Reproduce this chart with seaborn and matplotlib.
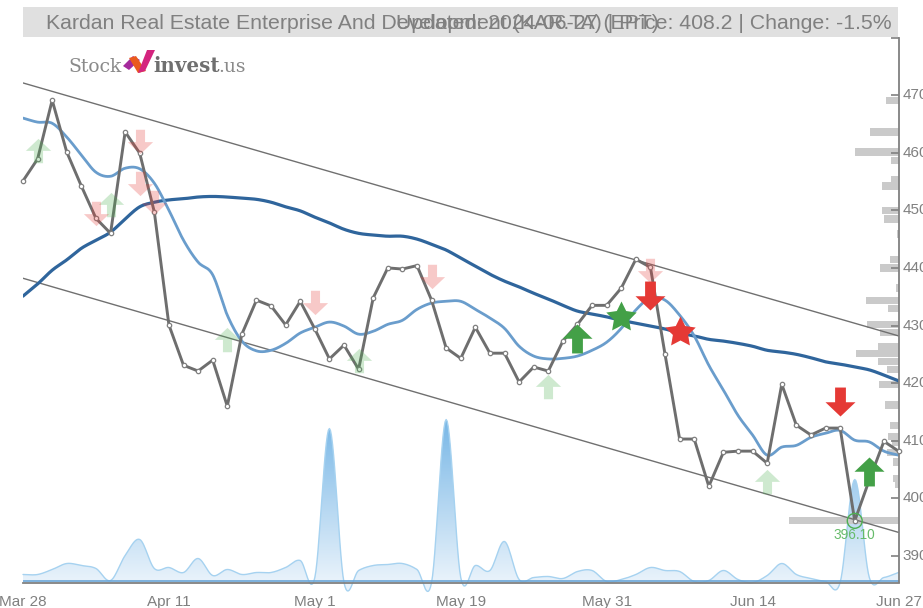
import numpy as np
import pandas as pd
import matplotlib
matplotlib.use("Agg")
import matplotlib.pyplot as plt
from matplotlib.patches import Polygon, Rectangle, PathPatch
from matplotlib.path import Path
import seaborn as sns

# -----------------------------
# DATA
# -----------------------------
PRICE = [455.1, 458.9, 469.1, 460.1, 454.2, 448.6, 446.0, 463.6, 459.9, 449.7,
         430.1, 423.1, 422.1, 424.0, 416.0, 428.5, 434.4, 433.4, 430.1, 434.2,
         429.4, 424.2, 426.6, 422.4, 434.8, 440.0, 439.8, 440.4, 434.4, 426.1,
         424.3, 429.7, 425.2, 425.2, 420.2, 422.8, 422.1, 427.3, 430.2, 433.5,
         433.5, 436.5, 441.5, 440.1, 425.0, 410.3, 410.3, 402.1, 408.0, 408.2,
         408.2, 406.1, 419.8, 412.7, 411.0, 412.2, 412.2, 396.1, 403.2, 409.9,
         408.2]
MA_SHORT = [466.0, 465.3, 465.1, 462.7, 459.6, 456.6, 455.9, 457.3, 457.2, 454.7,
            450.0, 444.8, 441.0, 438.8, 431.8, 427.3, 425.6, 425.7, 426.9, 428.7,
            429.7, 430.6, 429.9, 428.5, 429.0, 430.2, 430.9, 432.8, 433.9, 434.2,
            434.2, 432.8, 431.3, 429.5, 426.4, 424.7, 424.2, 424.3, 424.7, 425.7,
            427.1, 429.5, 432.7, 434.8, 434.4, 431.8, 428.2, 423.1, 418.8, 414.4,
            411.0, 407.5, 408.9, 409.2, 410.6, 411.3, 411.8, 410.1, 409.8, 408.2,
            407.5]
MA_LONG = [435.1, 437.2, 439.6, 441.4, 443.4, 444.8, 446.2, 448.5, 450.6, 451.4,
           451.8, 452.0, 452.3, 452.4, 452.3, 452.1, 451.9, 451.4, 450.6, 449.9,
           448.8, 447.8, 446.7, 446.0, 445.7, 445.5, 445.5, 445.0, 444.1, 443.1,
           441.7, 440.3, 438.9, 437.7, 436.7, 435.6, 434.6, 433.5, 432.5, 432.0,
           431.5, 430.9, 430.4, 429.9, 429.4, 428.7, 428.2, 427.6, 427.3, 426.9,
           426.4, 425.7, 425.4, 425.0, 424.4, 423.7, 423.3, 422.8, 422.3, 421.4,
           420.4]
VOLUME = [8, 8, 13, 19, 17, 14, 2, 27, 43, 14,
          15, 10, 24, 7, 13, 8, 10, 10, 15, 22,
          5, 154, 0, 12, 17, 18, 19, 13, 0, 163,
          5, 17, 12, 41, 3, 5, 6, 4, 11, 12,
          1, 3, 8, 15, 12, 11, 1, 2, 12, 3,
          0, 7, 19, 8, 4, 1, 0, 103, 5, 5,
          10]
CHANNEL_UPPER = [472.1, 428.2]
CHANNEL_LOWER = [438.2, 394.1]

PROFILE_PRICE = [469.1, 463.6, 460.1, 458.7, 455.4, 454.2, 449.9, 448.5, 445.9, 441.4,
                 440.0, 436.5, 434.4, 433.0, 430.2, 428.8, 426.4, 425.2, 423.8, 422.4,
                 419.8, 416.2, 412.7, 410.8, 409.8, 407.9, 406.3, 403.5, 402.5, 396.2]
PROFILE_COUNT = [13, 29, 44, 8, 8, 17, 17, 15, 2, 9,
                 19, 3, 33, 11, 32, 19, 21, 43, 21, 12,
                 20, 14, 9, 11, 7, 12, 6, 6, 4, 110]

WEAK_BUY_X = [1, 6, 14, 23, 36, 51]
WEAK_BUY_Y = [460.3, 451.0, 427.5, 423.8, 419.4, 402.8]
WEAK_SELL_X = [5, 8, 8, 9, 20, 28, 43]
WEAK_SELL_Y = [449.6, 462.0, 454.8, 451.4, 434.1, 438.6, 439.6]
BUY_X = [38, 58]
BUY_Y = [427.6, 404.5]
SELL_X = [43, 56]
SELL_Y = [435.3, 416.9]
STAR_BUY = (41, 431.5)
STAR_SELL = (45, 428.9)
LOW_IDX = 57
LOW_VALUE = 396.1

X_TICKS = [0, 10, 20, 30, 40, 50, 60]
X_LABELS = ["Mar 28", "Apr 11", "May 1", "May 19", "May 31", "Jun 14", "Jun 27"]
Y_TICKS = [390, 400, 410, 420, 430, 440, 450, 460, 470]

TITLE_LEFT = "Kardan Real Estate Enterprise And Development (KAR.TA) | Price: 408.2 | Change: -1.5%"
TITLE_UPDATED = "Updated: 2024-06-27 (EPT)"

# -----------------------------
# CONFIGURATION
# -----------------------------
W, H = 923, 608
GRAY = "#808080"
Y_RANGE = (385.4, 479.9)


def px(x, y):
    """Pixel position in the picture to figure fraction."""
    return x / W, 1 - y / H


def smooth(values, steps=14):
    """Cardinal spline through the read values, for drawing only."""
    p = np.asarray(values, dtype=float)
    m = np.gradient(p)
    xs, ys = [], []
    for i in range(len(p) - 1):
        t = np.linspace(0, 1, steps, endpoint=False)
        ys.append((2*t**3 - 3*t**2 + 1) * p[i] + (t**3 - 2*t**2 + t) * m[i]
                  + (-2*t**3 + 3*t**2) * p[i+1] + (t**3 - t**2) * m[i+1])
        xs.append(i + t)
    xs.append([len(p) - 1])
    ys.append([p[-1]])
    return pd.DataFrame({"x": np.concatenate(xs), "y": np.concatenate(ys)})


ARROW_UP = Path([(0, 1), (1, 0.05), (0.36, 0.05), (0.36, -0.93), (-0.36, -0.93),
                 (-0.36, 0.05), (-1, 0.05), (0, 1)], closed=True)
ARROW_DOWN = Path([(0, -1), (1, -0.05), (0.36, -0.05), (0.36, 0.93), (-0.36, 0.93),
                   (-0.36, -0.05), (-1, -0.05), (0, -1)], closed=True)
STAR = Path.unit_regular_star(5, innerCircle=0.5)

sns.set_theme(style="white")
plt.rcParams["font.family"] = ["Liberation Sans", "DejaVu Sans"]

fig = plt.figure(figsize=(W / 100, H / 100), dpi=100)
left, bottom = px(23, 582.5)
right, top = px(898.5, 38)
rect = [left, bottom, right - left, top - bottom]

# -----------------------------
# TITLE BAND
# -----------------------------
x0, y0 = px(23, 37)
x1, y1 = px(898, 7)
fig.add_artist(Rectangle((x0, y0), x1 - x0, y1 - y0, transform=fig.transFigure,
                         facecolor="#e0e0e0", edgecolor="none"))
fig.text(*px(892, 23.5), TITLE_LEFT, ha="right", va="center", fontsize=15.3, color=GRAY)
fig.text(*px(396, 23.5), TITLE_UPDATED, ha="left", va="center", fontsize=15.3, color=GRAY)

# -----------------------------
# VOLUME AREA
# -----------------------------
ax_vol = fig.add_axes(rect, zorder=1)
ax_vol.axis("off")
vol = smooth(VOLUME)
vol_top = max(VOLUME) * 1.02
gradient = np.linspace(0, 1, 256).reshape(-1, 1)
cmap = matplotlib.colors.LinearSegmentedColormap.from_list("vol", ["#76b6e6", "#eaf3fb"])
img = ax_vol.imshow(gradient, extent=(0, 60, 0, vol_top), origin="upper", aspect="auto",
                    cmap=cmap, zorder=1)
outline = np.column_stack([vol["x"], vol["y"]])
outline = np.vstack([[0, 0], outline, [60, 0], [0, 0]])
clip = PathPatch(Path(outline), transform=ax_vol.transData, facecolor="#eaf3fb",
                 edgecolor="none", clip_on=False, zorder=0.5)
ax_vol.add_patch(clip)
img.set_clip_path(clip)
sns.lineplot(data=vol, x="x", y="y", ax=ax_vol, color="#a6d2f0", linewidth=1,
             estimator=None, sort=False, zorder=2, clip_on=False)
ax_vol.set_xlim(0, 60)
ax_vol.set_ylim(0, 544.5)

# -----------------------------
# VOLUME PROFILE
# -----------------------------
ax_hist = fig.add_axes(rect, zorder=2)
ax_hist.axis("off")
ax_hist.barh(PROFILE_PRICE, PROFILE_COUNT, height=1.25, color="#cacaca", linewidth=0)
ax_hist.set_xlim(875.5, 0)
ax_hist.set_ylim(*Y_RANGE)

# -----------------------------
# PRICE PANEL
# -----------------------------
ax = fig.add_axes(rect, zorder=3)
ax.patch.set_alpha(0)
idx = np.arange(len(PRICE))

# blue volume baseline sits just above the axis line
ax.axhline(Y_RANGE[0] + 0.2, color="#6aa6d8", linewidth=1.2, zorder=1.5)
sns.lineplot(x=[0, 60], y=CHANNEL_UPPER, ax=ax, color="#707070", linewidth=1)
sns.lineplot(x=[0, 60], y=CHANNEL_LOWER, ax=ax, color="#707070", linewidth=1)
sns.lineplot(data=smooth(MA_LONG), x="x", y="y", ax=ax, color="#2f659c", linewidth=2.3,
             estimator=None, sort=False)
sns.lineplot(data=smooth(MA_SHORT), x="x", y="y", ax=ax, color="#6a9dcc", linewidth=2,
             estimator=None, sort=False)
sns.lineplot(x=idx, y=PRICE, ax=ax, color="#6e6e6e", linewidth=2.1, clip_on=False,
             estimator=None)
sns.scatterplot(x=idx, y=PRICE, ax=ax, s=10, color="white", edgecolor="#808080",
                linewidth=0.9, zorder=5, clip_on=False)

# signals
sns.scatterplot(x=WEAK_BUY_X, y=WEAK_BUY_Y, ax=ax, marker=ARROW_UP, s=330,
                color="#4caf50", alpha=0.27, linewidth=0, zorder=6)
sns.scatterplot(x=WEAK_SELL_X, y=WEAK_SELL_Y, ax=ax, marker=ARROW_DOWN, s=330,
                color="#e53935", alpha=0.27, linewidth=0, zorder=6)
sns.scatterplot(x=BUY_X, y=BUY_Y, ax=ax, marker=ARROW_UP, s=467,
                color="#43a047", linewidth=0, zorder=7)
sns.scatterplot(x=SELL_X, y=SELL_Y, ax=ax, marker=ARROW_DOWN, s=467,
                color="#e53935", linewidth=0, zorder=7)
sns.scatterplot(x=[STAR_BUY[0]], y=[STAR_BUY[1]], ax=ax, marker=STAR, s=530,
                color="#43a047", linewidth=0, zorder=7)
sns.scatterplot(x=[STAR_SELL[0]], y=[STAR_SELL[1]], ax=ax, marker=STAR, s=530,
                color="#e53935", linewidth=0, zorder=7)

# period low
ax.scatter([LOW_IDX], [LOW_VALUE], s=115, facecolor="none", edgecolor="#4caf50",
           linewidth=1, zorder=8)
ax.text(LOW_IDX, LOW_VALUE - 2.4, f"{LOW_VALUE:.2f}", ha="center", va="center",
        fontsize=9.8, color="#66bb6a", zorder=8)

# axes
ax.set_xlim(0, 60)
ax.set_ylim(*Y_RANGE)
ax.set_xlabel("")
ax.set_ylabel("")
ax.set_xticks(X_TICKS, X_LABELS)
ax.yaxis.tick_right()
ax.set_yticks(Y_TICKS + [Y_RANGE[1]], [str(v) for v in Y_TICKS] + [""])
ax.tick_params(axis="x", direction="out", length=5, width=1.2, color=GRAY,
               labelcolor=GRAY, labelsize=11, pad=4)
ax.tick_params(axis="y", direction="in", length=5.5, width=1.2, color=GRAY,
               labelcolor=GRAY, labelsize=11, pad=3, right=True, left=False)
for label in ax.get_yticklabels():
    label.set_verticalalignment("center")
    label.set_y(label.get_position()[1])
for side in ["top", "left"]:
    ax.spines[side].set_visible(False)
for side in ["bottom", "right"]:
    ax.spines[side].set_color(GRAY)
    ax.spines[side].set_linewidth(1.3)

# -----------------------------
# LOGO
# -----------------------------
fig.text(*px(68, 72), "Stock", ha="left", va="baseline", fontsize=13.5,
         color="#8a8a8a", family="DejaVu Serif", fontweight="light")
fig.text(*px(153, 72), "invest", ha="left", va="baseline", fontsize=14.3,
         color="#6f6f6f", family="DejaVu Serif", fontweight="bold")
fig.text(*px(218, 72), ".us", ha="left", va="baseline", fontsize=13.5,
         color="#8a8a8a", family="DejaVu Serif")
logo_parts = [
    ([(123, 66), (133, 56), (140, 60), (129, 70)], "#a52a9c"),
    ([(129, 58), (136, 56), (146, 71), (138, 73)], "#ea5a1e"),
    ([(138, 73), (147, 50), (155, 50), (145, 71)], "#d4247e"),
]
for pts, color in logo_parts:
    fig.add_artist(Polygon([px(*p) for p in pts], closed=True, transform=fig.transFigure,
                           facecolor=color, edgecolor="none"))

fig.savefig("out.png", dpi=100)
